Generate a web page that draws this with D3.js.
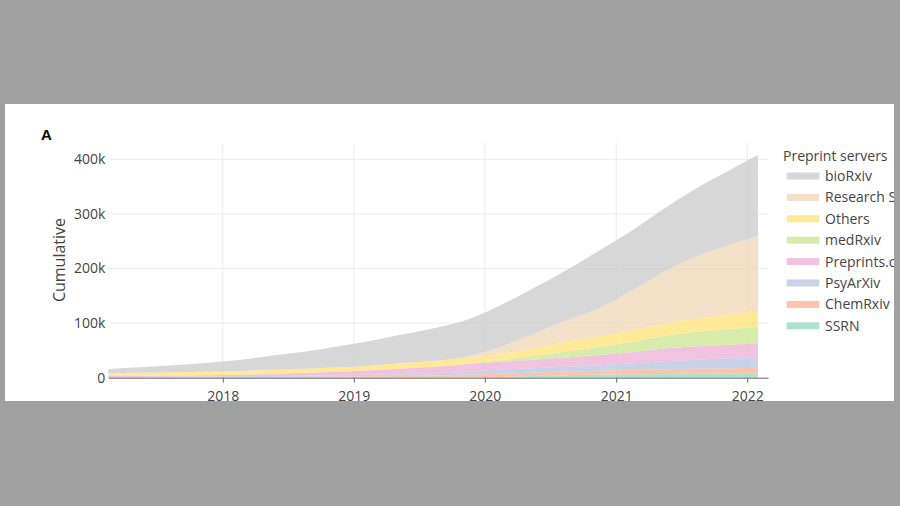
<!DOCTYPE html>
<html>
<head>
<meta charset="utf-8">
<script src="https://cdn.jsdelivr.net/npm/d3@7"></script>
<style>
  html, body { margin: 0; padding: 0; background: #a0a0a0; }
  svg { display: block; }
  text { font-family: "Open Sans", "DejaVu Sans", sans-serif; }
</style>
</head>
<body>
<svg id="chart" width="900" height="506"></svg>
<script>
// ---- data (cumulative preprints, thousands) ----
const dates = ["2017-02-16","2017-05-15","2017-08-15","2017-11-15",
  "2018-02-15","2018-05-15","2018-08-15","2018-11-15",
  "2019-02-15","2019-05-15","2019-08-15","2019-11-15",
  "2020-02-15","2020-05-15","2020-08-15","2020-11-15",
  "2021-02-15","2021-05-15","2021-08-15","2021-11-15","2022-01-31"];

const seriesNames = ["SSRN","ChemRxiv","PsyArXiv","Preprints.org","medRxiv","Others","Research Square","bioRxiv"];

const ssrn       = [0,0,0,0,0,0,0,0,0,0,0.1,0.3,1.5,3,4.5,5.8,6.5,7,7.4,7.7,8];
const chemrxiv   = [0.3,0.5,0.7,0.9,1.1,1.4,1.7,2.1,2.6,3.2,3.9,4.9,6,6.5,6.8,7,7.5,8.3,9,9.6,10];
const psyarxiv   = [0.7,0.8,0.9,1.1,1.4,1.6,1.9,2.2,2.6,3.3,4,5.8,7.5,8,8.7,10.2,12,14.7,16.6,18.2,20];
const preprints  = [2,2.2,2.4,2.5,3,4,5.4,6.7,8.3,10.5,12,14,14,15.5,17,18.5,21,23.5,24.5,25,25];
const medrxiv    = [0,0,0,0,0,0,0,0,0,0,0.3,1,3,7,11,14.5,19,23.5,26.5,28.5,30];
const others     = [5,5.5,6,6.5,6.8,7.2,7.6,8,8.6,10,10.5,11,11.5,14,18,19.5,20.5,22,24,27,30];
const researchSq = [0,0,0,0,0,0,0,0,0,0,0.2,2,13,26,39,51.5,73.5,95,115,128,137];
const biorxiv    = [8,10,13,16,20,26,31,38,45,52,60,67.5,76.5,84,92,106,110,116,125,137,148];

const seriesValues = [ssrn, chemrxiv, psyarxiv, preprints, medrxiv, others, researchSq, biorxiv];
const colors = ["#9bdbc2","#fbb595","#bac7e2","#ecb4d9","#cde795","#ffe37c","#efd8ba","#cdcdcd"];

const yTicks = [0, 100000, 200000, 300000, 400000];
const legendTitle = "Preprint servers";
const yTitle = "Cumulative";
const panelLabel = "A";

// ---- build table ----
const parse = d3.timeParse("%Y-%m-%d");
const table = dates.map((d, i) => {
  const row = { date: parse(d) };
  seriesNames.forEach((n, k) => { row[n] = seriesValues[k][i] * 1000; });
  return row;
});
const stacked = d3.stack().keys(seriesNames)(table);

// ---- layout ----
const svg = d3.select("#chart");
const panel = { x: 5, y: 104, w: 889, h: 297 };
svg.append("defs").append("clipPath").attr("id", "panelclip")
  .append("rect").attr("x", panel.x).attr("y", panel.y).attr("width", panel.w).attr("height", panel.h);
svg.append("rect").attr("x", panel.x).attr("y", panel.y).attr("width", panel.w).attr("height", panel.h).attr("fill", "#fff");
const root = svg.append("g").attr("clip-path", "url(#panelclip)");

const x = d3.scaleTime()
  .domain([new Date(2017, 1, 16), new Date(2022, 1, 28)])
  .range([108.3, 768]);
const y = d3.scaleLinear().domain([0, 430400]).range([377.7, 142.7]);

// grid
root.append("g").selectAll("line.h").data(yTicks.slice(1)).join("line")
  .attr("x1", 108.3).attr("x2", 768)
  .attr("y1", d => y(d)).attr("y2", d => y(d))
  .attr("stroke", "#ebebeb").attr("stroke-width", 1);
const yearTicks = x.ticks(d3.timeYear.every(1));
root.append("g").selectAll("line.v").data(yearTicks).join("line")
  .attr("x1", d => x(d)).attr("x2", d => x(d))
  .attr("y1", 142.7).attr("y2", 377.7)
  .attr("stroke", "#ebebeb").attr("stroke-width", 1);

// areas
const area = d3.area()
  .x(d => x(d.data.date))
  .y0(d => y(d[0]))
  .y1(d => y(d[1]))
  .curve(d3.curveMonotoneX);
root.append("g").selectAll("path").data(stacked).join("path")
  .attr("d", area)
  .attr("fill", (d, i) => colors[i])
  .attr("fill-opacity", 0.8);

// y axis labels
const yAxis = d3.axisLeft(y).tickValues(yTicks).tickFormat(d3.format("~s")).tickSize(0).tickPadding(3);
const gy = root.append("g").attr("transform", "translate(108.3,0)").call(yAxis);
gy.select(".domain").remove();
gy.selectAll("text").attr("font-size", 14).attr("fill", "#444").style("font-family", '"Open Sans", sans-serif');

// x axis
const xAxis = d3.axisBottom(x).ticks(d3.timeYear.every(1)).tickFormat(d3.timeFormat("%Y"))
  .tickSize(5).tickSizeOuter(0).tickPadding(8);
const gx = root.append("g").attr("transform", "translate(0,377.7)").call(xAxis);
gx.select(".domain").attr("stroke", "#666");
gx.selectAll(".tick line").attr("stroke", "#666");
gx.selectAll("text").attr("font-size", 14).attr("fill", "#444").style("font-family", '"Open Sans", sans-serif');

// y title
root.append("text")
  .attr("transform", "translate(65,260) rotate(-90)")
  .attr("text-anchor", "middle")
  .attr("font-size", 16).attr("fill", "#444")
  .text(yTitle);

// panel label
root.append("text").attr("x", 41).attr("y", 140)
  .attr("font-size", 15).attr("font-weight", "bold").attr("fill", "#000")
  .style("font-family", "Arial, 'Liberation Sans', sans-serif")
  .text(panelLabel);

// legend
const lg = root.append("g");
lg.append("text").attr("x", 783).attr("y", 160.7)
  .attr("font-size", 14).attr("fill", "#444").text(legendTitle);
const legendOrder = seriesNames.map((n, i) => ({ name: n, color: colors[i] })).reverse();
const items = lg.selectAll("g.item").data(legendOrder).join("g")
  .attr("transform", (d, i) => `translate(0,${176 + i * 21.4})`);
items.append("rect").attr("x", 786.7).attr("y", -3.5).attr("width", 32.6).attr("height", 7)
  .attr("fill", d => d.color).attr("fill-opacity", 0.8);
items.append("text").attr("x", 825).attr("y", 5)
  .attr("font-size", 14).attr("fill", "#444").text(d => d.name);
</script>
</body>
</html>
